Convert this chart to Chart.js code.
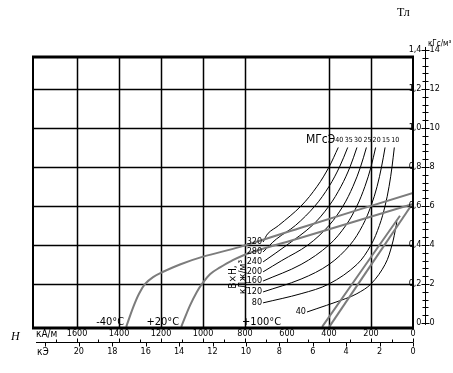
<!DOCTYPE html>
<html>
<head>
<meta charset="utf-8">
<script src="https://cdn.jsdelivr.net/npm/chart.js@4"></script>
<style>
  html, body { margin: 0; padding: 0; background: #fff; }
  #wrap { width: 453px; height: 373px; }
</style>
</head>
<body>
<div id="wrap"><canvas id="chart" width="453" height="373"></canvas></div>
<script>
// H in kA/m (drawn right to left), B in T
const curveMinus40 = [[1366, -0.02], [1333, 0.08], [1305, 0.15], [1276, 0.2], [1238, 0.235], [1195, 0.26], [1110, 0.3], [1000, 0.34], [824, 0.39], [538, 0.487], [0, 0.667]];
const curvePlus20 = [[1104, -0.02], [1062, 0.09], [1029, 0.16], [1005, 0.2], [967, 0.25], [919, 0.285], [862, 0.32], [776, 0.36], [538, 0.436], [0, 0.61]];
const curvePlus100a = [[433, -0.02], [62, 0.55]];
const curvePlus100b = [[399, -0.02], [10, 0.6]];

// energy product curves B*H, kJ/m3 (last point = label leader)
const energy320 = [[356, 0.9], [400, 0.8], [457, 0.7], [533, 0.6], [640, 0.5], [690, 0.46], [714, 0.415]];
const energy280 = [[311, 0.9], [350, 0.8], [400, 0.7], [467, 0.6], [560, 0.5], [651, 0.43], [714, 0.364]];
const energy240 = [[267, 0.9], [300, 0.8], [343, 0.7], [400, 0.6], [480, 0.5], [600, 0.4], [714, 0.313]];
const energy200 = [[222, 0.9], [250, 0.8], [286, 0.7], [333, 0.6], [400, 0.5], [500, 0.4], [625, 0.32], [714, 0.262]];
const energy160 = [[178, 0.9], [200, 0.8], [229, 0.7], [267, 0.6], [320, 0.5], [400, 0.4], [533, 0.3], [714, 0.215]];
const energy120 = [[133, 0.9], [150, 0.8], [171, 0.7], [200, 0.6], [240, 0.5], [300, 0.4], [400, 0.3], [533, 0.225], [714, 0.159]];
const energy80 = [[89, 0.9], [100, 0.8], [114, 0.7], [133, 0.6], [160, 0.5], [200, 0.4], [267, 0.3], [400, 0.2], [533, 0.15], [714, 0.103]];
const energy40 = [[77, 0.52], [80, 0.5], [100, 0.4], [133, 0.3], [200, 0.2], [267, 0.15], [320, 0.125], [505, 0.056]];

const energyLabels = ['320', '280', '240', '200', '160', '120', '80', '40'];
const mgoeLabels = ['40', '35', '30', '25', '20', '15', '10'];

const hGrid = [1600, 1400, 1200, 1000, 800, 400, 200];
const bGrid = [0.2, 0.4, 0.6, 0.8, 1.0, 1.2];
const hTicks = [1600, 1400, 1200, 1000, 800, 600, 400, 200, 0];
const koeTicks = [20, 18, 16, 14, 12, 10, 8, 6, 4, 2, 0];
const bTicks = [0, 0.2, 0.4, 0.6, 0.8, 1.0, 1.2, 1.4];
const bTickLabels = ['0', '0,2', '0,4', '0,6', '0,8', '1,0', '1,2', '1,4'];
const kgsTickLabels = ['0', '2', '4', '6', '8', '10', '12', '14'];

const KOE = 79.577; // kA/m per kOe
const narrow = "'Liberation Sans Narrow', 'DejaVu Sans Condensed', sans-serif";

function pts(arr) {
  return arr.map(p => ({ x: p[0], y: p[1] }));
}

const grayStyle = { borderColor: '#7c7c7c', borderWidth: 2 };
const blackStyle = { borderColor: '#000', borderWidth: 1 };

const energyCurves = [energy320, energy280, energy240, energy200, energy160, energy120, energy80, energy40];

let datasets = [
  Object.assign({ label: '-40°C', data: pts(curveMinus40) }, grayStyle),
  Object.assign({ label: '+20°C', data: pts(curvePlus20) }, grayStyle),
  Object.assign({ label: '+100°C a', data: pts(curvePlus100a) }, grayStyle),
  Object.assign({ label: '+100°C b', data: pts(curvePlus100b) }, grayStyle)
];
energyCurves.forEach((c, i) => {
  datasets.push(Object.assign({ label: energyLabels[i], data: pts(c) }, blackStyle));
});
datasets.forEach(d => {
  d.showLine = true;
  d.pointRadius = 0;
  d.tension = 0.35;
  d.fill = false;
});

const gridPlugin = {
  id: 'grid',
  beforeDatasetsDraw(chart) {
    const { ctx, chartArea: a, scales: { x, y } } = chart;
    ctx.save();
    ctx.strokeStyle = '#000';
    ctx.lineWidth = 1.5;
    hGrid.forEach(h => {
      const px = Math.round(x.getPixelForValue(h)) + 0.5;
      ctx.beginPath(); ctx.moveTo(px, a.top); ctx.lineTo(px, a.bottom); ctx.stroke();
    });
    bGrid.forEach(b => {
      const py = Math.round(y.getPixelForValue(b)) + 0.5;
      ctx.beginPath(); ctx.moveTo(a.left, py); ctx.lineTo(a.right, py); ctx.stroke();
    });
    ctx.restore();
  },
  afterDatasetsDraw(chart) {
    const { ctx, chartArea: a } = chart;
    ctx.save();
    ctx.strokeStyle = '#000';
    ctx.lineWidth = 2;
    ctx.beginPath(); ctx.moveTo(a.left, a.top); ctx.lineTo(a.left, a.bottom); ctx.stroke();
    ctx.beginPath(); ctx.moveTo(a.right, a.top); ctx.lineTo(a.right, a.bottom); ctx.stroke();
    ctx.lineWidth = 3;
    ctx.beginPath(); ctx.moveTo(a.left - 1, a.top); ctx.lineTo(a.right + 1, a.top); ctx.stroke();
    ctx.beginPath(); ctx.moveTo(a.left - 1, a.bottom); ctx.lineTo(a.right + 1, a.bottom); ctx.stroke();
    ctx.restore();
  }
};

const axesPlugin = {
  id: 'axes',
  afterDraw(chart) {
    const { ctx, chartArea: a, scales: { x, y } } = chart;
    ctx.save();
    ctx.fillStyle = '#000';
    ctx.strokeStyle = '#000';

    // right ruler: T and kGs
    const rx = 425.5;
    ctx.lineWidth = 1;
    ctx.beginPath();
    ctx.moveTo(rx, y.getPixelForValue(1.4) - 3);
    ctx.lineTo(rx, y.getPixelForValue(0) + 2);
    ctx.stroke();
    for (let i = 0; i <= 35; i++) {
      const py = Math.round(y.getPixelForValue(i * 0.04)) + 0.5;
      const major = i % 5 === 0;
      ctx.beginPath();
      ctx.moveTo(rx - (major ? 4 : 3), py);
      ctx.lineTo(rx + (major ? 4 : 3), py);
      ctx.stroke();
    }
    ctx.font = '9px ' + narrow;
    ctx.textBaseline = 'middle';
    bTicks.forEach((b, i) => {
      const py = y.getPixelForValue(b);
      ctx.textAlign = 'right';
      ctx.fillText(bTickLabels[i], rx - 4, py);
      ctx.textAlign = 'left';
      ctx.fillText(kgsTickLabels[i], rx + 4, py);
    });

    // bottom rows: kA/m and kOe
    ctx.textAlign = 'center';
    hTicks.forEach(h => {
      ctx.fillText(String(h), x.getPixelForValue(h), 334);
    });
    ctx.textAlign = 'left';
    ctx.font = '10px ' + narrow;
    ctx.fillText('кА/м', 36, 334);
    ctx.fillText('кЭ', 37, 352);

    const ly = 342.5;
    ctx.beginPath(); ctx.moveTo(36, ly); ctx.lineTo(a.right, ly); ctx.stroke();
    for (let h = 0; h <= 1700; h += 100) {
      const px = Math.round(x.getPixelForValue(h)) + 0.5;
      ctx.beginPath(); ctx.moveTo(px, ly); ctx.lineTo(px, ly - (h % 200 === 0 ? 4 : 3)); ctx.stroke();
    }
    for (let k = 0; k <= 22; k += 2) {
      const px = Math.round(x.getPixelForValue(k * KOE)) + 0.5;
      ctx.beginPath(); ctx.moveTo(px, ly); ctx.lineTo(px, ly + 4); ctx.stroke();
    }
    ctx.font = '9px ' + narrow;
    ctx.textAlign = 'center';
    koeTicks.forEach(k => {
      ctx.fillText(String(k), x.getPixelForValue(k * KOE), 352);
    });

    // axis names
    ctx.font = 'italic 12px "Liberation Serif", "DejaVu Serif", serif';
    ctx.textAlign = 'left';
    ctx.fillText('Н', 11, 337);
    ctx.font = '12px "Liberation Serif", "DejaVu Serif", serif';
    ctx.fillText('Тл', 397, 13);
    ctx.font = '8px ' + narrow;
    ctx.fillText('кГс/м³', 428, 44);

    // temperature labels
    ctx.font = '11px ' + narrow;
    ctx.textAlign = 'right';
    ctx.fillText('-40°C', x.getPixelForValue(curveMinus40[0][0]) - 2, 322);
    ctx.fillText('+20°C', x.getPixelForValue(curvePlus20[0][0]) - 2, 322);
    ctx.textAlign = 'left';
    ctx.fillText('+100°C', x.getPixelForValue(800) - 3, 322);

    // energy labels at the leader ends
    ctx.font = '9px ' + narrow;
    ctx.textAlign = 'right';
    energyCurves.forEach((c, i) => {
      const last = c[c.length - 1];
      ctx.fillText(energyLabels[i], x.getPixelForValue(last[0]) - 1, y.getPixelForValue(last[1]));
    });
    // MGOe labels at the top ends
    ctx.font = '7px ' + narrow;
    ctx.textAlign = 'center';
    mgoeLabels.forEach((t, i) => {
      const first = energyCurves[i][0];
      ctx.fillText(t, x.getPixelForValue(first[0]) + 1, y.getPixelForValue(first[1]) - 7);
    });
    ctx.font = '12px ' + narrow;
    ctx.textAlign = 'right';
    const firstX = x.getPixelForValue(energy320[0][0]);
    ctx.fillText('МГсЭ', firstX - 3, y.getPixelForValue(energy320[0][1]) - 8);

    // rotated title of energy curves
    ctx.font = '10px ' + narrow;
    ctx.textAlign = 'center';
    ctx.translate(233, 277);
    ctx.rotate(-Math.PI / 2);
    ctx.fillText('В×Н,', 0, 0);
    ctx.fillText('кДж/м³', 0, 10);
    ctx.restore();
  }
};

const ctx = document.getElementById('chart').getContext('2d');
new Chart(ctx, {
  type: 'scatter',
  data: { datasets: datasets },
  options: {
    responsive: false,
    animation: false,
    devicePixelRatio: 1,
    layout: { padding: { left: 33, right: 40, top: 57, bottom: 45 } },
    plugins: { legend: { display: false }, tooltip: { enabled: false } },
    scales: {
      x: { type: 'linear', reverse: true, min: 0, max: 1810, display: false },
      y: { type: 'linear', min: -0.026, max: 1.364, display: false }
    }
  },
  plugins: [gridPlugin, axesPlugin]
});
</script>
</body>
</html>
